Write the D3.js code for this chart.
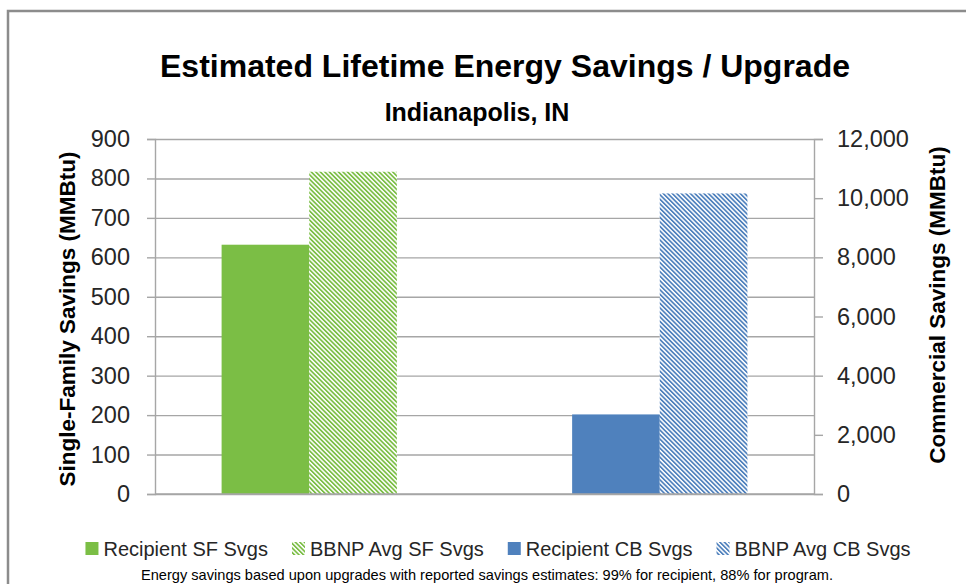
<!DOCTYPE html>
<html>
<head>
<meta charset="utf-8">
<script src="https://cdn.jsdelivr.net/npm/d3@7"></script>
<style>
  body { margin: 0; background: #fff; }
  svg { display: block; font-family: "Liberation Sans", Arial, sans-serif; }
</style>
</head>
<body>
<div class="vis-barchart"></div>
<script>
// chart data
const categories = ["Single-Family", "Commercial"];
const sfSeries = ["Recipient SF Svgs", "BBNP Avg SF Svgs"];
const cbSeries = ["Recipient CB Svgs", "BBNP Avg CB Svgs"];
const sfValues = [632, 817];      // MMBtu, left axis
const cbValues = [2690, 10160];   // MMBtu, right axis
const leftTicks = [0, 100, 200, 300, 400, 500, 600, 700, 800, 900];
const rightTicks = [0, 2000, 4000, 6000, 8000, 10000, 12000];
const titleText = "Estimated Lifetime Energy Savings / Upgrade";
const subtitleText = "Indianapolis, IN";
const leftAxisTitle = "Single-Family Savings (MMBtu)";
const rightAxisTitle = "Commercial Savings (MMBtu)";
const footnote = "Energy savings based upon upgrades with reported savings estimates: 99% for recipient, 88% for program.";

const green = "#7bbe45";
const blue = "#4f81bd";
const gridColor = "#a6a6a6";

const W = 966, H = 584;
const margin = { top: 139, right: 152, bottom: 90, left: 155 };
const width = W - margin.left - margin.right;
const height = H - margin.top - margin.bottom;

const root = d3.select(".vis-barchart")
    .append("svg")
    .attr("width", W)
    .attr("height", H);

// hatch patterns
const defs = root.append("defs");
[["hatch-green", green], ["hatch-blue", blue]].forEach(([id, col]) => {
    const p = defs.append("pattern")
        .attr("id", id)
        .attr("patternUnits", "userSpaceOnUse")
        .attr("width", 3.2)
        .attr("height", 3.2)
        .attr("patternTransform", "rotate(-45)");
    p.append("rect").attr("width", 3.2).attr("height", 3.2).attr("fill", "#fff");
    p.append("rect").attr("width", 1.7).attr("height", 3.2).attr("fill", col);
});

// outer chart border
root.append("rect")
    .attr("x", 8).attr("y", 11)
    .attr("width", 980).attr("height", 600)
    .attr("fill", "none")
    .attr("stroke", "#8c8c8c")
    .attr("stroke-width", 2.5);

const svg = root.append("g")
    .attr("transform", `translate(${margin.left},${margin.top})`);

// scales
const x = d3.scaleBand()
    .domain(categories)
    .range([0, width])
    .paddingInner(0.5)
    .paddingOuter(0.19);
const xs = d3.scaleBand().domain([0, 1]).range([0, x.bandwidth()]);
const yL = d3.scaleLinear().domain([0, 900]).range([height, 0]);
const yR = d3.scaleLinear().domain([0, 12000]).range([height, 0]);

// gridlines
svg.append("g")
    .call(d3.axisLeft(yL).tickValues(leftTicks).tickSize(-width).tickFormat(""))
    .call(g => g.select(".domain").remove())
    .selectAll("line")
    .attr("stroke", gridColor)
    .attr("stroke-width", 1.4);

// bars: single-family on left axis
const sfFills = [green, "url(#hatch-green)"];
svg.append("g").selectAll("rect")
    .data(sfValues)
    .join("rect")
    .attr("x", (d, i) => x(categories[0]) + xs(i))
    .attr("y", d => yL(d))
    .attr("width", xs.bandwidth())
    .attr("height", d => height - yL(d))
    .attr("fill", (d, i) => sfFills[i]);

// bars: commercial on right axis
const cbFills = [blue, "url(#hatch-blue)"];
svg.append("g").selectAll("rect")
    .data(cbValues)
    .join("rect")
    .attr("x", (d, i) => x(categories[1]) + xs(i))
    .attr("y", d => yR(d))
    .attr("width", xs.bandwidth())
    .attr("height", d => height - yR(d))
    .attr("fill", (d, i) => cbFills[i]);

// left axis
svg.append("g")
    .call(d3.axisLeft(yL).tickValues(leftTicks).tickSize(8).tickPadding(17))
    .call(g => g.selectAll("line, .domain").attr("stroke", gridColor).attr("stroke-width", 1.4))
    .call(g => g.selectAll("text").attr("fill", "#262626").style("font-size", "23.5px"));

// right axis
svg.append("g")
    .attr("transform", `translate(${width},0)`)
    .call(d3.axisRight(yR).tickValues(rightTicks).tickFormat(d3.format(",")).tickSize(9).tickPadding(14))
    .call(g => g.selectAll("line, .domain").attr("stroke", gridColor).attr("stroke-width", 1.4))
    .call(g => g.selectAll("text").attr("fill", "#262626").style("font-size", "23.5px"));

// category axis line
svg.append("line")
    .attr("x1", 0).attr("x2", width)
    .attr("y1", height).attr("y2", height)
    .attr("stroke", gridColor)
    .attr("stroke-width", 1.4);

// titles
root.append("text")
    .attr("x", 505).attr("y", 77)
    .attr("text-anchor", "middle")
    .style("font-size", "32px").style("font-weight", "bold")
    .text(titleText);

root.append("text")
    .attr("x", 477).attr("y", 121)
    .attr("text-anchor", "middle")
    .style("font-size", "25px").style("font-weight", "bold")
    .text(subtitleText);

root.append("text")
    .attr("transform", "translate(75,319) rotate(-90)")
    .attr("text-anchor", "middle")
    .style("font-size", "22.5px").style("font-weight", "bold")
    .text(leftAxisTitle);

root.append("text")
    .attr("transform", "translate(945,305) rotate(-90)")
    .attr("text-anchor", "middle")
    .style("font-size", "22.5px").style("font-weight", "bold")
    .text(rightAxisTitle);

// legend
const legendItems = [
    { name: sfSeries[0], fill: green },
    { name: sfSeries[1], fill: "url(#hatch-green)" },
    { name: cbSeries[0], fill: blue },
    { name: cbSeries[1], fill: "url(#hatch-blue)" }
];
const legend = root.append("g");
let lx = 0;
legendItems.forEach(item => {
    const row = legend.append("g").attr("transform", `translate(${lx},0)`);
    row.append("rect")
        .attr("x", 0).attr("y", -7)
        .attr("width", 13).attr("height", 13)
        .attr("fill", item.fill);
    const t = row.append("text")
        .attr("x", 18).attr("y", 7)
        .attr("fill", "#262626")
        .style("font-size", "20px")
        .text(item.name);
    lx += 18 + t.node().getComputedTextLength() + 24;
});
const legendWidth = lx - 24;
legend.attr("transform", `translate(${498 - legendWidth / 2},549)`);

root.append("text")
    .attr("x", 487).attr("y", 580)
    .attr("text-anchor", "middle")
    .attr("fill", "#000")
    .style("font-size", "14.6px")
    .text(footnote);
</script>
</body>
</html>
